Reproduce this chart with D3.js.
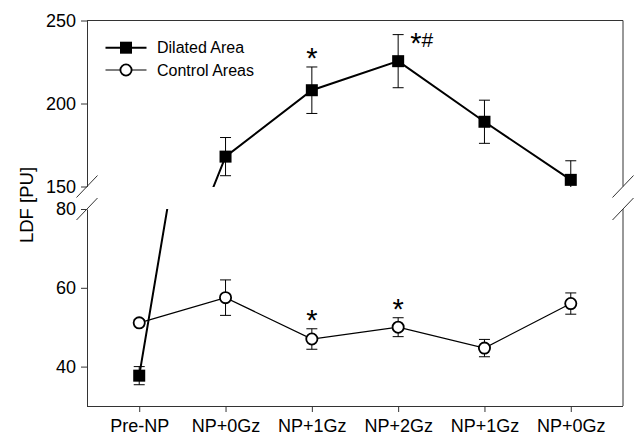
<!DOCTYPE html>
<html>
<head>
<meta charset="utf-8">
<script src="https://cdn.jsdelivr.net/npm/d3@7"></script>
<style>
  body { margin: 0; background: #fff; }
  svg { font-family: "Liberation Sans", Arial, sans-serif; }
</style>
</head>
<body>
<div class="chart"></div>
<script>
// categories along x
const categories = ['Pre-NP', 'NP+0Gz', 'NP+1Gz', 'NP+2Gz', 'NP+1Gz', 'NP+0Gz'];

// Dilated Area (mean, error)
const dilatedMean = [37.7, 168, 208, 225.5, 189, 154];
const dilatedErr = [2.3, 11.5, 14, 16, 13, 11.5];
const dilatedSig = ['', '', '*', '*#', '', ''];

// Control Areas (mean, error)
const controlMean = [51.1, 57.5, 47, 50, 44.7, 56];
const controlErr = [0.8, 4.5, 2.6, 2.4, 2.2, 2.7];
const controlSig = ['', '', '*', '*', '', ''];

// broken y axis: two segments
const upperDomain = [150, 250];
const lowerDomain = [30, 80];
const upperTicks = [150, 200, 250];
const lowerTicks = [40, 60, 80];

const W = 638,
  H = 436,
  mLeft = 87,
  mRight = 623,
  mTop = 20.5,
  mBottom = 406,
  upperBottom = 186.5,
  lowerTop = 209;

const svg = d3
  .select('.chart')
  .append('svg')
  .attr('width', W)
  .attr('height', H);

const x = d3
  .scalePoint()
  .domain(d3.range(categories.length))
  .range([mLeft, mRight])
  .padding(0.605);

const yUp = d3.scaleLinear().domain(upperDomain).range([upperBottom, mTop]);
const yLow = d3.scaleLinear().domain(lowerDomain).range([mBottom, lowerTop]);

const segments = [
  { id: 'up', y: yUp, y0: mTop, y1: upperBottom },
  { id: 'low', y: yLow, y0: lowerTop, y1: mBottom }
];

const defs = svg.append('defs');
segments.forEach(s => {
  defs
    .append('clipPath')
    .attr('id', 'clip-' + s.id)
    .append('rect')
    .attr('x', mLeft)
    .attr('y', s.y0)
    .attr('width', mRight - mLeft)
    .attr('height', s.y1 - s.y0 + 0.5);
});

const axisColor = '#333';

// frame: top line and right line (broken)
svg.append('line')
  .attr('x1', mLeft).attr('x2', mRight).attr('y1', mTop).attr('y2', mTop)
  .attr('stroke', axisColor).attr('stroke-width', 1);
svg.append('line')
  .attr('x1', mRight).attr('x2', mRight).attr('y1', mTop).attr('y2', upperBottom)
  .attr('stroke', axisColor).attr('stroke-width', 1);
svg.append('line')
  .attr('x1', mRight).attr('x2', mRight).attr('y1', lowerTop).attr('y2', mBottom)
  .attr('stroke', axisColor).attr('stroke-width', 1);

// left axes
const styleAxis = g => {
  g.select('.domain').attr('stroke', axisColor);
  g.selectAll('.tick line').attr('stroke', axisColor);
  g.selectAll('.tick text')
    .attr('fill', '#000')
    .style('font-size', '18px');
};

svg.append('g')
  .attr('transform', `translate(${mLeft},0)`)
  .call(d3.axisLeft(yUp).tickValues(upperTicks).tickSize(6).tickPadding(5).tickSizeOuter(0))
  .call(styleAxis);

svg.append('g')
  .attr('transform', `translate(${mLeft},0)`)
  .call(d3.axisLeft(yLow).tickValues(lowerTicks).tickSize(6).tickPadding(5).tickSizeOuter(0))
  .call(styleAxis);

// x axis
svg.append('g')
  .attr('transform', `translate(0,${mBottom})`)
  .call(d3.axisBottom(x).tickFormat(i => categories[i]).tickSize(6).tickPadding(7).tickSizeOuter(0))
  .call(styleAxis)
  .call(g => g.select('.domain').attr('d', `M${mLeft},0.5H${mRight}`));

// break marks
[mLeft, mRight].forEach(cx => {
  [upperBottom, lowerTop].forEach(cy => {
    svg.append('line')
      .attr('x1', cx - 10.5).attr('y1', cy + 11)
      .attr('x2', cx + 10.5).attr('y2', cy - 11)
      .attr('stroke', axisColor).attr('stroke-width', 1);
  });
});

// y label
svg.append('text')
  .attr('transform', 'translate(33,205) rotate(-90)')
  .attr('text-anchor', 'middle')
  .style('font-size', '18.5px')
  .text('LDF [PU]');

const series = [
  { mean: controlMean, err: controlErr, sig: controlSig, lw: 1.2, shape: 'circle' },
  { mean: dilatedMean, err: dilatedErr, sig: dilatedSig, lw: 2, shape: 'square' }
];

segments.forEach(s => {
  const g = svg.append('g').attr('clip-path', `url(#clip-${s.id})`);
  series.forEach(ser => {
    const pts = ser.mean.map((m, i) => ({ i, m, e: ser.err[i] }));
    const line = d3.line().x(d => x(d.i)).y(d => s.y(d.m));
    g.append('path')
      .datum(pts)
      .attr('d', line)
      .attr('fill', 'none')
      .attr('stroke', '#000')
      .attr('stroke-width', ser.lw);

    const eb = g.selectAll(null).data(pts).enter().append('g');
    eb.append('line')
      .attr('x1', d => x(d.i)).attr('x2', d => x(d.i))
      .attr('y1', d => s.y(d.m - d.e)).attr('y2', d => s.y(d.m + d.e))
      .attr('stroke', '#000').attr('stroke-width', 1);
    [-1, 1].forEach(k => {
      eb.append('line')
        .attr('x1', d => x(d.i) - 5.5).attr('x2', d => x(d.i) + 5.5)
        .attr('y1', d => s.y(d.m + k * d.e)).attr('y2', d => s.y(d.m + k * d.e))
        .attr('stroke', '#000').attr('stroke-width', 1);
    });

    if (ser.shape === 'square') {
      g.selectAll(null).data(pts).enter().append('rect')
        .attr('x', d => x(d.i) - 6).attr('y', d => s.y(d.m) - 6)
        .attr('width', 12).attr('height', 12)
        .attr('fill', '#000');
    } else {
      g.selectAll(null).data(pts).enter().append('circle')
        .attr('cx', d => x(d.i)).attr('cy', d => s.y(d.m))
        .attr('r', 5.6)
        .attr('fill', '#fff').attr('stroke', '#000').attr('stroke-width', 1.8);
    }

    // significance marks
    pts.filter(d => ser.sig[d.i]).forEach(d => {
      const label = ser.sig[d.i];
      const yt = s.y(d.m + d.e);
      if (yt < s.y0 || yt > s.y1) return;
      const wide = label.length > 1;
      const t = g.append('text')
        .attr('x', wide ? x(d.i) + 12 : x(d.i))
        .attr('y', wide ? yt + 18.5 : yt + 1)
        .attr('text-anchor', wide ? 'start' : 'middle');
      label.split('').forEach(c => {
        t.append('tspan')
          .style('font-size', c === '*' ? '29px' : '21px')
          .attr('dy', c === '*' ? 0 : -6)
          .text(c);
      });
    });
  });
});

// legend
const legend = [
  { name: 'Dilated Area', shape: 'square', y: 47.7 },
  { name: 'Control Areas', shape: 'circle', y: 70 }
];
const lg = svg.append('g');
legend.forEach(l => {
  lg.append('line')
    .attr('x1', 105.5).attr('x2', 146.5).attr('y1', l.y).attr('y2', l.y)
    .attr('stroke', '#000').attr('stroke-width', l.shape === 'square' ? 2 : 1.2);
  if (l.shape === 'square') {
    lg.append('rect').attr('x', 120).attr('y', l.y - 6).attr('width', 12).attr('height', 12).attr('fill', '#000');
  } else {
    lg.append('circle').attr('cx', 126).attr('cy', l.y).attr('r', 5.6)
      .attr('fill', '#fff').attr('stroke', '#000').attr('stroke-width', 1.8);
  }
  lg.append('text')
    .attr('x', 157).attr('y', l.y + 5.5)
    .style('font-size', '16px')
    .text(l.name);
});
</script>
</body>
</html>
